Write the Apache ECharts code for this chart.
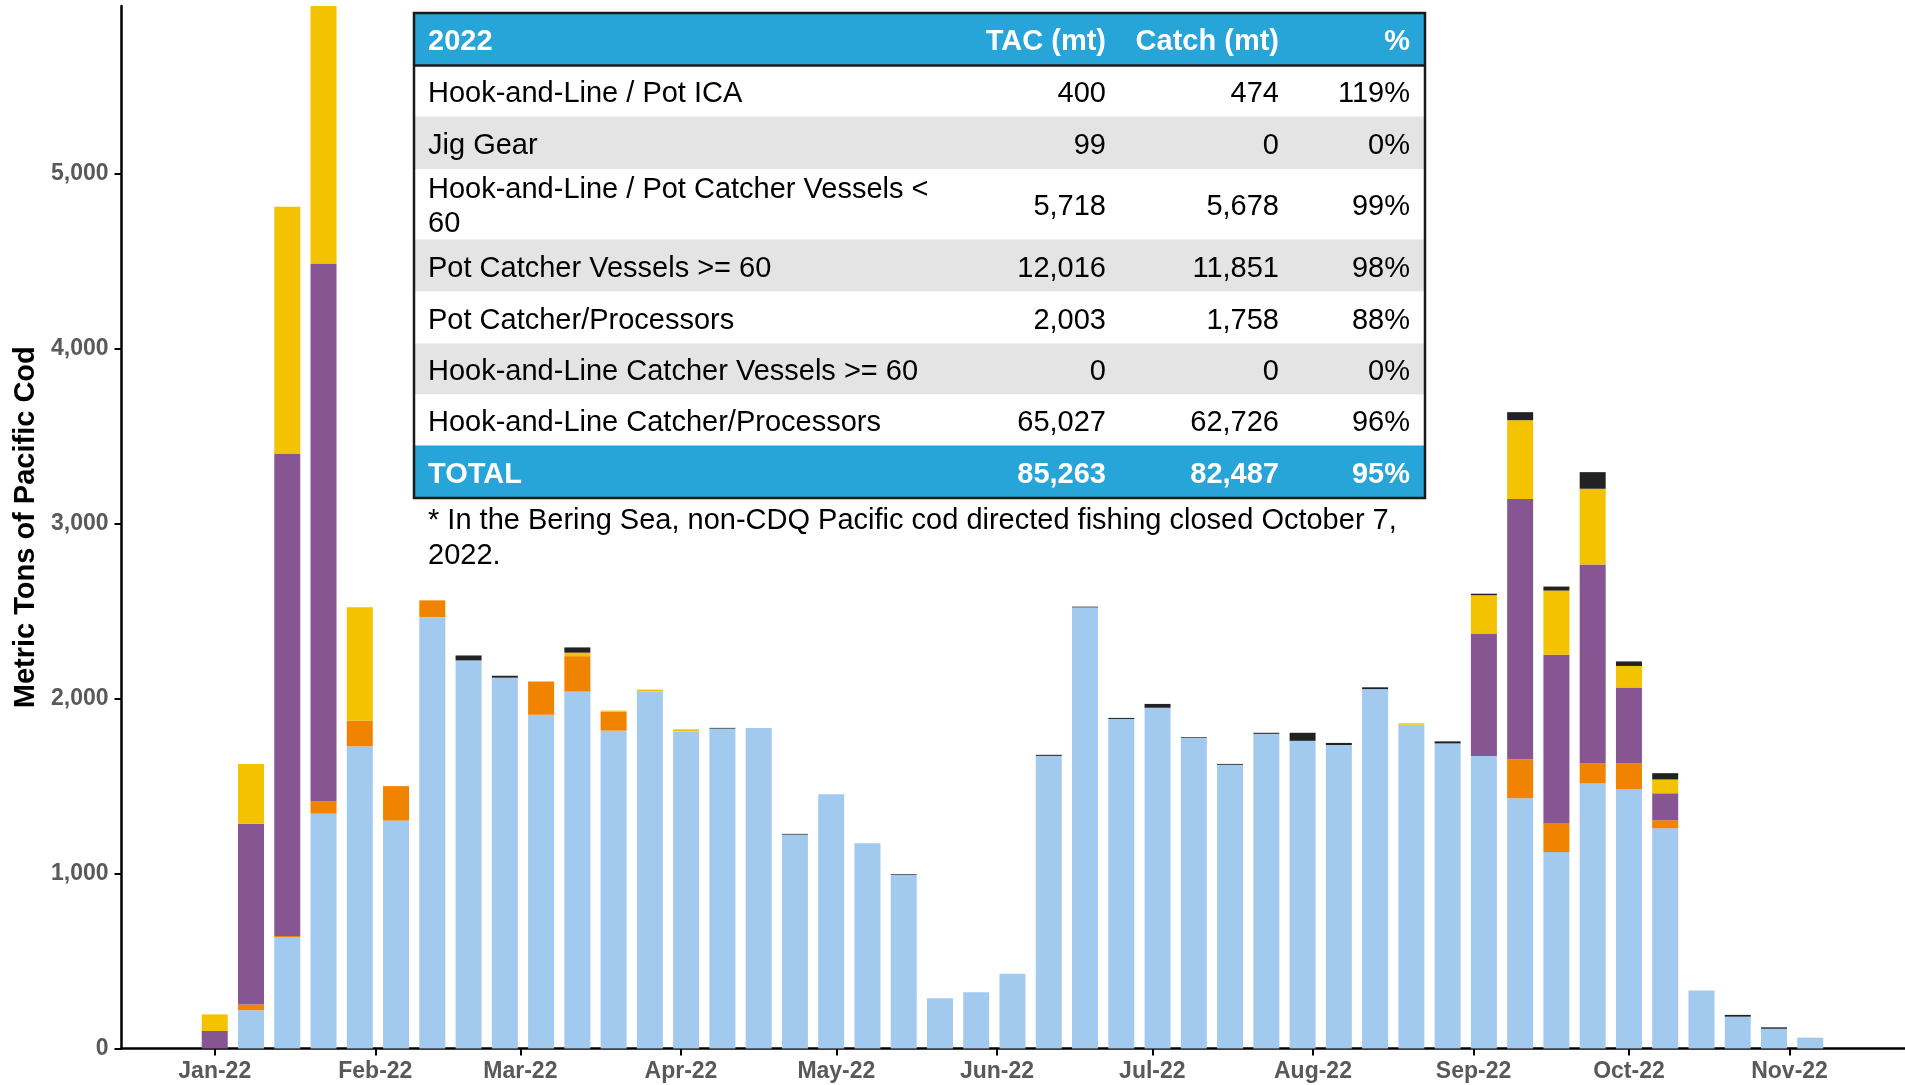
<!DOCTYPE html>
<html>
<head>
<meta charset="utf-8">
<title>Pacific cod catch 2022</title>
<script src="https://cdn.jsdelivr.net/npm/echarts@6/dist/echarts.min.js"></script>
<style>
  html, body { margin: 0; padding: 0; background: #fff; }
  #chart { width: 1905px; height: 1085px; }
</style>
</head>
<body>
<div id="chart"></div>
<script>
// week ending dates (Saturdays)
var weeks = [
  "2022-01-01", "2022-01-08", "2022-01-15", "2022-01-22", "2022-01-29",
  "2022-02-05", "2022-02-12", "2022-02-19", "2022-02-26",
  "2022-03-05", "2022-03-12", "2022-03-19", "2022-03-26",
  "2022-04-02", "2022-04-09", "2022-04-16", "2022-04-23", "2022-04-30",
  "2022-05-07", "2022-05-14", "2022-05-21", "2022-05-28",
  "2022-06-04", "2022-06-11", "2022-06-18", "2022-06-25",
  "2022-07-02", "2022-07-09", "2022-07-16", "2022-07-23", "2022-07-30",
  "2022-08-06", "2022-08-13", "2022-08-20", "2022-08-27",
  "2022-09-03", "2022-09-10", "2022-09-17", "2022-09-24",
  "2022-10-01", "2022-10-08", "2022-10-15", "2022-10-22", "2022-10-29",
  "2022-11-05"
];

// metric tons per week, by sector (stack order bottom -> top)
var hlCatcherProcessors = [
  0, 219, 637, 1343, 1727,
  1303, 2466, 2219, 2120,
  1908, 2040, 1817, 2040,
  1813, 1829, 1833, 1223, 1454,
  1173, 992, 287, 321,
  428, 1673, 2522, 1884,
  1948, 1777, 1622, 1799, 1759,
  1735, 2055, 1851, 1744,
  1672, 1431, 1123, 1515,
  1482, 1259, 331, 182, 113,
  62
];
var potCatcherProcessors = [
  0, 32, 6, 71, 148,
  197, 96, 0, 0,
  190, 203, 109, 0,
  0, 0, 0, 0, 0,
  0, 0, 0, 0,
  0, 0, 0, 0,
  0, 0, 0, 0, 0,
  0, 0, 0, 0,
  0, 223, 164, 116,
  149, 46, 0, 0, 0,
  0
];
var potCV60 = [
  100, 1034, 2759, 3074, 0,
  0, 0, 0, 0,
  0, 0, 0, 0,
  0, 0, 0, 0, 0,
  0, 0, 0, 0,
  0, 0, 0, 0,
  0, 0, 0, 0, 0,
  0, 0, 0, 0,
  700, 1487, 964, 1136,
  433, 154, 0, 0, 0,
  0
];
var hlPotCVUnder60 = [
  95, 342, 1410, 1472, 647,
  0, 0, 0, 0,
  0, 20, 6, 12,
  12, 0, 0, 0, 0,
  0, 0, 0, 0,
  0, 0, 0, 0,
  0, 0, 0, 0, 0,
  0, 0, 8, 0,
  220, 451, 367, 433,
  123, 79, 0, 0, 0,
  0
];
var hlPotICA = [
  0, 0, 0, 0, 0,
  0, 0, 28, 11,
  0, 30, 0, 0,
  0, 4, 0, 4, 0,
  0, 4, 0, 0,
  0, 6, 4, 6,
  22, 4, 5, 6, 46,
  12, 10, 0, 12,
  8, 46, 23, 95,
  26, 36, 0, 10, 8,
  0
];

var monthTicks = [
  "2022-01-01", "2022-02-01", "2022-03-01", "2022-04-01", "2022-05-01", "2022-06-01",
  "2022-07-01", "2022-08-01", "2022-09-01", "2022-10-01", "2022-11-01"
];
var yTicks = [0, 1000, 2000, 3000, 4000, 5000];

// table
var tableHeader = ["2022", "TAC (mt)", "Catch (mt)", "%"];
var sectors = [
  "Hook-and-Line / Pot ICA",
  "Jig Gear",
  "Hook-and-Line / Pot Catcher Vessels < 60",
  "Pot Catcher Vessels >= 60",
  "Pot Catcher/Processors",
  "Hook-and-Line Catcher Vessels >= 60",
  "Hook-and-Line Catcher/Processors"
];
var tac = [400, 99, 5718, 12016, 2003, 0, 65027];
var catchMt = [474, 0, 5678, 11851, 1758, 0, 62726];
var pct = ["119%", "0%", "99%", "98%", "88%", "0%", "96%"];
var totalPct = "95%";
var footnote = "* In the Bering Sea, non-CDQ Pacific cod directed fishing closed October 7, 2022.";

var monthNames = ["Jan", "Feb", "Mar", "Apr", "May", "Jun", "Jul", "Aug", "Sep", "Oct", "Nov", "Dec"];
function utc(d) { return +new Date(d + "T00:00:00Z"); }
function fmt(n) { return n.toLocaleString("en-US"); }

var FONT = '"Liberation Sans", Arial, sans-serif';

// word wrap measured with the same font the canvas uses
var measureCtx = document.createElement("canvas").getContext("2d");
function wrapText(text, font, maxWidth) {
  measureCtx.font = font;
  var words = text.split(" "), lines = [], line = "";
  words.forEach(function (w) {
    var test = line ? line + " " + w : w;
    if (line && measureCtx.measureText(test).width > maxWidth) {
      lines.push(line);
      line = w;
    } else {
      line = test;
    }
  });
  lines.push(line);
  return lines.join("\n");
}

var chart = echarts.init(document.getElementById("chart"));

function makeSeries(name, values, color) {
  return {
    name: name,
    type: "bar",
    stack: "total",
    barWidth: 26,
    itemStyle: { color: color },
    emphasis: { disabled: true },
    // value first so that the stack runs on tons, not on the dates
    encode: { x: 1, y: 0 },
    data: weeks.map(function (w, i) { return [values[i], utc(w)]; })
  };
}

// build table graphics
var graphics = [];
var tableLeft = 414, tableRight = 1425, tableTop = 13;
var rowHeights = [52.5, 51, 52.5, 70.5, 52, 52, 51, 51, 52.5];
var colRight = [1106, 1279, 1410];
var textLeft = 428;
var textNudge = 3;
var blueHead = "#27A4D8";

var rows = [tableHeader];
for (var i = 0; i < sectors.length; i++) {
  rows.push([sectors[i], fmt(tac[i]), fmt(catchMt[i]), pct[i]]);
}
var tacTotal = tac.reduce(function (a, b) { return a + b; }, 0);
var catchTotal = catchMt.reduce(function (a, b) { return a + b; }, 0);
rows.push(["TOTAL", fmt(tacTotal), fmt(catchTotal), totalPct]);

var y = tableTop;
rows.forEach(function (row, r) {
  var h = rowHeights[r];
  var isHead = r === 0 || r === rows.length - 1;
  var bg = isHead ? blueHead : (r % 2 === 0 ? "#E4E4E4" : "#FFFFFF");
  graphics.push({
    type: "rect", z: 10,
    shape: { x: tableLeft, y: y, width: tableRight - tableLeft, height: h },
    style: { fill: bg }
  });
  var cy = y + h / 2 + textNudge;
  var font = (isHead ? "bold " : "") + "29px " + FONT;
  var color = isHead ? "#FFFFFF" : "#000000";
  graphics.push({
    type: "text", z: 12,
    style: {
      text: wrapText(row[0], font, 520), x: textLeft, y: cy, font: font, fill: color,
      align: "left", verticalAlign: "middle", lineHeight: 34
    }
  });
  for (var c = 1; c < 4; c++) {
    graphics.push({
      type: "text", z: 12,
      style: {
        text: row[c], x: colRight[c - 1], y: cy, font: font, fill: color,
        align: "right", verticalAlign: "middle"
      }
    });
  }
  y += h;
});
// header separator and outer border
graphics.push({
  type: "line", z: 11,
  shape: { x1: tableLeft, y1: tableTop + rowHeights[0], x2: tableRight, y2: tableTop + rowHeights[0] },
  style: { stroke: "#1A1A1A", lineWidth: 2.5 }
});
graphics.push({
  type: "rect", z: 11,
  shape: { x: tableLeft, y: tableTop, width: tableRight - tableLeft, height: y - tableTop },
  style: { fill: "none", stroke: "#1A1A1A", lineWidth: 2.5 }
});
graphics.push({
  type: "text", z: 12,
  style: {
    text: wrapText(footnote, "29px " + FONT, 1000), x: textLeft, y: y + 2 + textNudge,
    font: "29px " + FONT, fill: "#000000",
    align: "left", verticalAlign: "top", lineHeight: 35
  }
});

var option = {
  backgroundColor: "#FFFFFF",
  animation: false,
  textStyle: { fontFamily: FONT },
  grid: { left: 121.5, right: 0, top: 6, bottom: 36.5, containLabel: false },
  xAxis: {
    // time carried as UTC milliseconds on a plain value axis, ticks at month starts
    type: "value",
    min: Date.UTC(2021, 11, 14),
    max: Date.UTC(2022, 10, 23, 7),
    splitLine: { show: false },
    axisLine: { show: true, lineStyle: { color: "#000000", width: 2.5 } },
    axisTick: {
      show: true, length: 7, lineStyle: { color: "#000000", width: 2 },
      customValues: monthTicks.map(utc)
    },
    axisLabel: {
      customValues: monthTicks.map(utc),
      color: "#595959", fontWeight: "bold", fontSize: 23, fontFamily: FONT, margin: 12,
      formatter: function (v) {
        var d = new Date(v);
        return monthNames[d.getUTCMonth()] + "-" + String(d.getUTCFullYear()).slice(2);
      }
    }
  },
  yAxis: {
    type: "value",
    min: 0,
    max: 5960,
    name: "Metric Tons of Pacific Cod",
    nameLocation: "middle",
    nameGap: 80,
    nameTextStyle: { color: "#000000", fontWeight: "bold", fontSize: 29, fontFamily: FONT },
    splitLine: { show: false },
    axisLine: { show: true, lineStyle: { color: "#000000", width: 2.5 } },
    axisTick: { show: true, length: 7, lineStyle: { color: "#000000", width: 2 }, customValues: yTicks },
    axisLabel: {
      customValues: yTicks,
      color: "#595959", fontWeight: "bold", fontSize: 23, fontFamily: FONT, margin: 13,
      formatter: function (v) { return fmt(v); }
    }
  },
  series: [
    makeSeries("Hook-and-Line Catcher/Processors", hlCatcherProcessors, "#A2C9EE"),
    makeSeries("Pot Catcher/Processors", potCatcherProcessors, "#F08300"),
    makeSeries("Pot Catcher Vessels >= 60", potCV60, "#875692"),
    makeSeries("Hook-and-Line / Pot Catcher Vessels < 60", hlPotCVUnder60, "#F3C300"),
    makeSeries("Hook-and-Line / Pot ICA", hlPotICA, "#222222")
  ],
  graphic: graphics
};

chart.setOption(option);
</script>
</body>
</html>
